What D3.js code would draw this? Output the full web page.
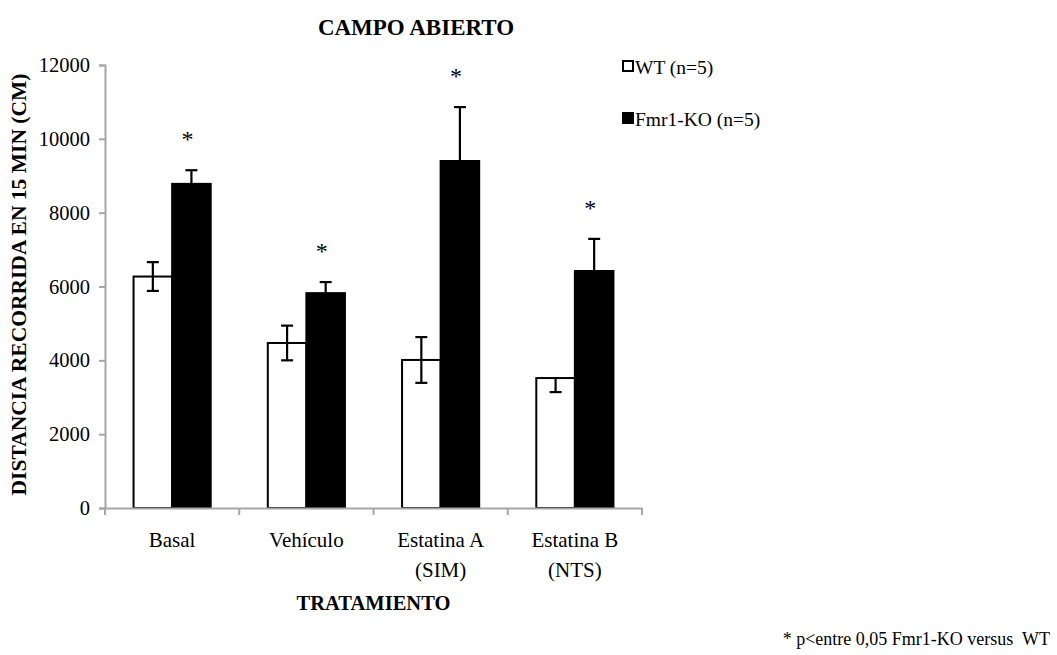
<!DOCTYPE html>
<html>
<head>
<meta charset="utf-8">
<script src="https://cdn.jsdelivr.net/npm/d3@7"></script>
<style>
  html, body { margin: 0; padding: 0; background: #fff; }
  #chart text { font-family: "Liberation Serif", "DejaVu Serif", serif !important; fill: #000; }
</style>
</head>
<body>
<svg id="chart" width="1057" height="655"></svg>
<script>
// Distance travelled in the open field test (cm in 15 min), mean ± SEM
const categories = [["Basal"], ["Vehículo"], ["Estatina A", "(SIM)"], ["Estatina B", "(NTS)"]];
const seriesNames = ["WT (n=5)", "Fmr1-KO (n=5)"];
const wtValues = [6270, 4470, 4010, 3520];
const wtErrPlus = [390, 470, 620, 0];
const wtErrMinus = [390, 470, 620, 380];
const koValues = [8780, 5820, 9400, 6420];
const koErr = [370, 300, 1460, 870];
const significant = [true, true, true, true];
const yTicks = [0, 2000, 4000, 6000, 8000, 10000, 12000];

const FONT = "'Liberation Serif', 'DejaVu Serif', serif";
const svg = d3.select("#chart");
const plot = { left: 105, right: 642, top: 65, bottom: 508 };
const axisColor = "#a6a6a6";

const catKeys = categories.map(c => c.join(" "));
const x = d3.scaleBand().domain(catKeys).range([plot.left, plot.right]).paddingInner(0).paddingOuter(0);
const xSub = d3.scaleBand().domain(seriesNames).range([0, x.bandwidth()]).paddingInner(0).paddingOuter(0.74);
const y = d3.scaleLinear().domain([0, 12000]).range([plot.bottom, plot.top]);

const rows = catKeys.map((k, i) => ({
  key: k,
  i,
  bars: [
    { s: seriesNames[0], v: wtValues[i], up: wtErrPlus[i], down: wtErrMinus[i], fill: "#fff" },
    { s: seriesNames[1], v: koValues[i], up: koErr[i], down: koErr[i], fill: "#000" }
  ]
}));

// Y axis
const yAxis = d3.axisLeft(y).tickValues(yTicks).tickSize(6).tickPadding(9).tickFormat(d3.format("d"));
const gy = svg.append("g").attr("transform", `translate(${plot.left},0)`).call(yAxis)
  .attr("font-family", null);
gy.select(".domain").attr("stroke", axisColor).attr("stroke-width", 2);
gy.selectAll(".tick line").attr("stroke", axisColor).attr("stroke-width", 2);
gy.selectAll(".tick text").attr("font-size", 20.5).style("font-family", FONT).attr("fill", "#000");

// Bars
const groups = svg.append("g").selectAll("g").data(rows).join("g")
  .attr("transform", d => `translate(${x(d.key)},0)`);

groups.selectAll("rect").data(d => d.bars).join("rect")
  .attr("x", b => xSub(b.s))
  .attr("width", xSub.bandwidth())
  .attr("y", b => y(b.v))
  .attr("height", b => y(0) - y(b.v))
  .attr("fill", b => b.fill)
  .attr("stroke", "#000")
  .attr("stroke-width", 2);

// Error bars
const capHalf = 6;
const err = groups.selectAll("g.err").data(d => d.bars).join("g").attr("class", "err")
  .attr("stroke", "#000").attr("stroke-width", 2.2);
err.append("line")
  .attr("x1", b => xSub(b.s) + xSub.bandwidth() / 2)
  .attr("x2", b => xSub(b.s) + xSub.bandwidth() / 2)
  .attr("y1", b => y(b.v + b.up))
  .attr("y2", b => y(b.v - b.down));
err.filter(b => b.up > 0).append("line")
  .attr("x1", b => xSub(b.s) + xSub.bandwidth() / 2 - capHalf)
  .attr("x2", b => xSub(b.s) + xSub.bandwidth() / 2 + capHalf)
  .attr("y1", b => y(b.v + b.up))
  .attr("y2", b => y(b.v + b.up));
err.filter(b => b.down > 0).append("line")
  .attr("x1", b => xSub(b.s) + xSub.bandwidth() / 2 - capHalf)
  .attr("x2", b => xSub(b.s) + xSub.bandwidth() / 2 + capHalf)
  .attr("y1", b => y(b.v - b.down))
  .attr("y2", b => y(b.v - b.down));

// Significance marks over the Fmr1-KO bars
groups.filter(d => significant[d.i]).append("text")
  .attr("x", d => xSub(seriesNames[1]) + xSub.bandwidth() / 2 - 4)
  .attr("y", d => y(d.bars[1].v + d.bars[1].up) - 23)
  .attr("text-anchor", "middle")
  .attr("font-size", 24)
  .style("font-family", FONT)
  .text("*");

// X axis
const xAxis = d3.axisBottom(x).tickValues([]).tickSizeOuter(0);
const gx = svg.append("g").attr("transform", `translate(0,${plot.bottom})`).call(xAxis);
gx.select(".domain").attr("stroke", axisColor).attr("stroke-width", 2);
// boundary ticks between categories
const bounds = catKeys.map(k => x(k)).concat([plot.right]);
gx.selectAll("line.bound").data(bounds).join("line").attr("class", "bound")
  .attr("x1", d => d).attr("x2", d => d).attr("y1", 0).attr("y2", 7)
  .attr("stroke", axisColor).attr("stroke-width", 2);

// Category labels
const labels = svg.append("g").selectAll("text").data(categories).join("text")
  .attr("x", (c, i) => x(catKeys[i]) + x.bandwidth() / 2)
  .attr("y", 547)
  .attr("text-anchor", "middle")
  .attr("font-size", 21)
  .style("font-family", FONT);
labels.selectAll("tspan").data(c => c).join("tspan")
  .attr("x", function () { return this.parentNode.getAttribute("x"); })
  .attr("dy", (t, j) => j === 0 ? 0 : 30)
  .text(t => t);

// Axis titles
svg.append("text")
  .attr("x", (plot.left + plot.right) / 2).attr("y", 610)
  .attr("text-anchor", "middle").attr("font-size", 20.5).attr("font-weight", "bold")
  .style("font-family", FONT)
  .text("TRATAMIENTO");

svg.append("text")
  .attr("transform", `translate(26,${(plot.top + plot.bottom) / 2 - 2}) rotate(-90)`)
  .attr("text-anchor", "middle").attr("font-size", 21.5).attr("font-weight", "bold")
  .style("font-family", FONT)
  .text("DISTANCIA RECORRIDA EN 15 MIN (CM)");

// Title
svg.append("text")
  .attr("x", 416).attr("y", 35)
  .attr("text-anchor", "middle").attr("font-size", 23).attr("font-weight", "bold")
  .style("font-family", FONT)
  .text("CAMPO ABIERTO");

// Legend
const legend = svg.append("g").attr("transform", "translate(623,61)");
const legItems = legend.selectAll("g").data(seriesNames).join("g")
  .attr("transform", (d, i) => `translate(0,${i * 52})`);
legItems.append("rect")
  .attr("x", 0).attr("y", 0).attr("width", 10).attr("height", 10)
  .attr("fill", (d, i) => i === 0 ? "#fff" : "#000")
  .attr("stroke", "#000").attr("stroke-width", 2);
legItems.append("text")
  .attr("x", 12).attr("y", 13)
  .attr("font-size", 19.5)
  .style("font-family", FONT)
  .text(d => d);

// Footnote
svg.append("text")
  .attr("x", 1050).attr("y", 645)
  .attr("text-anchor", "end").attr("font-size", 18)
  .style("font-family", FONT)
  .style("white-space", "pre")
  .text("* p<entre 0,05 Fmr1-KO versus  WT");
</script>
</body>
</html>
